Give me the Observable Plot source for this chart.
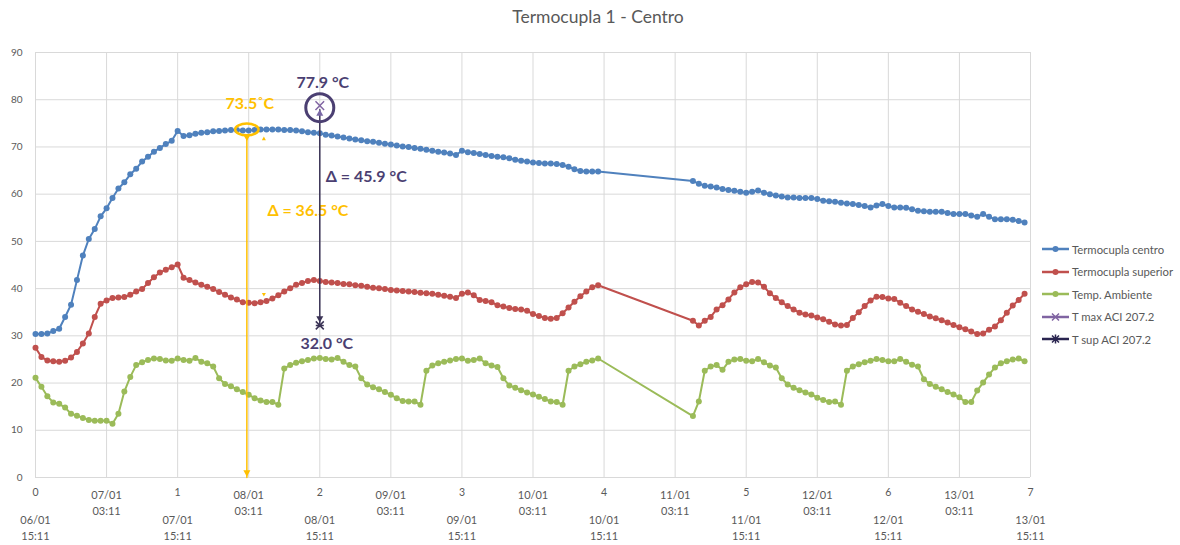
<!DOCTYPE html>
<html>
<head>
<meta charset="utf-8">
<script src="https://cdn.jsdelivr.net/npm/d3@7"></script>
<script src="https://cdn.jsdelivr.net/npm/@observablehq/plot@0.6"></script>
<style>
  body { margin: 0; background: #fff; font-family: Lato, "Open Sans", sans-serif; }
  #wrap { position: relative; width: 1180px; height: 545px; overflow: hidden; }
  #title { position: absolute; top: 6px; left: 598px; transform: translateX(-50%); font-size: 17.5px; color: #595959; white-space: nowrap; }
  #chart { position: absolute; top: 38px; left: 0; }
  #legend { position: absolute; left: 1042px; top: 238px; font-size: 11.3px; color: #595959; }
  #legend .row { height: 22.5px; display: flex; align-items: center; white-space: nowrap; }
  #legend svg { margin-right: 2px; }
</style>
</head>
<body>
<div id="wrap">
  <div id="title">Termocupla 1 - Centro</div>
  <div id="chart"></div>
  <div id="legend"></div>
</div>
<script>
// Hourly readings (hours after 06/01 15:11); logging stopped between hour 95 and hour 111.
const sampleHours = [...d3.range(0, 96), ...d3.range(111, 168)];

const seriesNames = ["Termocupla centro", "Termocupla superior", "Temp. Ambiente"];
const seriesColors = ["#4F81BD", "#C0504D", "#9BBB59"];

const tempCentro = [
  30.4,30.4,30.5,31.0,31.5,34.0,36.6,41.8,47.0,50.5,
  52.6,55.3,57.0,59.2,61.2,62.5,64.2,65.4,66.9,67.9,
  69.0,69.8,70.6,71.3,73.4,72.3,72.5,72.8,73.0,73.1,
  73.3,73.4,73.5,73.6,73.6,73.5,73.5,73.6,73.7,73.7,
  73.7,73.7,73.6,73.6,73.5,73.3,73.1,73.0,72.9,72.6,
  72.4,72.2,72.0,71.8,71.6,71.4,71.2,71.1,70.9,70.7,
  70.5,70.3,70.1,70.0,69.8,69.6,69.4,69.2,69.0,68.8,
  68.6,68.3,69.2,68.9,68.7,68.5,68.3,68.1,67.9,67.8,
  67.6,67.3,67.1,66.9,66.7,66.6,66.5,66.5,66.4,66.2,
  65.8,65.3,64.9,64.8,64.8,64.8,
  62.8,62.2,61.8,61.6,61.4,61.1,60.9,60.7,60.5,60.3,
  60.5,60.8,60.3,60.0,59.7,59.5,59.3,59.3,59.2,59.2,
  59.2,59.0,58.6,58.5,58.4,58.2,58.0,57.9,57.7,57.5,
  57.2,57.6,57.9,57.5,57.2,57.2,57.1,56.8,56.5,56.4,
  56.3,56.3,56.3,56.0,55.8,55.8,55.8,55.5,55.2,55.8,
  55.2,54.7,54.7,54.7,54.6,54.3,54.0
];

const tempSuperior = [
  27.5,25.5,24.8,24.6,24.5,24.7,25.4,26.6,28.4,30.5,
  34.0,36.8,37.5,38.0,38.1,38.2,38.7,39.4,39.9,41.2,
  42.4,43.4,44.0,44.5,45.1,42.3,41.8,41.3,40.8,40.4,
  39.9,39.3,38.7,38.1,37.7,37.1,37.0,36.9,37.1,37.4,
  37.9,38.6,39.4,40.1,40.8,41.2,41.6,41.8,41.6,41.4,
  41.3,41.2,41.0,40.9,40.7,40.6,40.4,40.2,40.1,39.9,
  39.7,39.6,39.5,39.4,39.3,39.1,39.0,38.9,38.7,38.5,
  38.3,38.0,38.9,39.2,38.6,37.6,37.4,37.1,36.5,36.2,
  35.9,35.7,35.6,35.3,34.6,34.2,33.8,33.6,33.8,34.8,
  36.0,37.2,38.4,39.4,40.3,40.7,
  33.2,32.2,33.2,34.0,35.6,36.5,37.7,39.2,40.3,40.9,
  41.4,41.3,40.4,39.0,38.0,37.1,36.3,35.6,34.9,34.5,
  34.3,33.9,33.5,33.0,32.4,32.2,32.3,33.8,35.0,36.3,
  37.5,38.3,38.2,37.9,37.8,37.0,36.3,35.6,35.1,34.6,
  34.1,33.7,33.3,32.8,32.3,31.8,31.4,30.9,30.4,30.5,
  31.3,32.0,33.3,34.9,36.4,37.6,38.9
];

const tempAmbiente = [
  21.1,19.2,17.2,15.9,15.6,14.8,13.5,13.1,12.6,12.2,
  12.0,12.0,12.0,11.4,13.5,18.2,21.3,23.8,24.4,24.9,
  25.2,25.1,24.8,24.7,25.2,24.9,24.7,25.3,24.5,24.2,
  23.5,21.0,19.8,19.3,18.7,18.1,17.5,16.8,16.3,16.0,
  16.0,15.4,23.1,23.8,24.3,24.6,24.9,25.2,25.3,25.1,
  25.0,25.3,24.5,23.8,23.5,21.0,19.7,19.1,18.7,18.1,
  17.5,16.8,16.2,16.1,16.1,15.4,22.6,23.7,24.2,24.5,
  24.8,25.1,25.2,24.7,24.9,25.2,24.2,23.7,23.4,21.0,
  19.5,19.0,18.5,18.0,17.6,17.1,16.6,16.1,16.0,15.4,
  22.6,23.5,24.0,24.5,24.8,25.2,
  13.0,16.1,22.6,23.5,23.8,22.8,24.5,25.0,25.1,24.7,
  24.6,25.1,24.4,23.7,23.3,21.0,19.7,19.0,18.5,18.0,
  17.6,16.9,16.4,16.0,16.1,15.4,22.6,23.5,24.0,24.4,
  24.7,25.1,24.9,24.6,24.6,25.1,24.5,23.9,23.5,20.8,
  19.8,19.2,18.7,18.1,17.6,17.0,16.0,16.0,18.4,20.1,
  21.8,23.3,24.2,24.6,25.0,25.2,24.6
];

// Axis ticks and labels
const yTicks = [0, 10, 20, 30, 40, 50, 60, 70, 80, 90];
const gridDays = [0, 0.5, 1, 1.5, 2, 2.5, 3, 3.5, 4, 4.5, 5, 5.5, 6, 6.5, 7];
const dayTicks = [0, 1, 2, 3, 4, 5, 6, 7];
const dayLabels = ["06/01\n15:11", "07/01\n15:11", "08/01\n15:11", "09/01\n15:11",
                   "10/01\n15:11", "11/01\n15:11", "12/01\n15:11", "13/01\n15:11"];
const halfDayTicks = [0.5, 1.5, 2.5, 3.5, 4.5, 5.5, 6.5];
const halfDayLabels = ["07/01\n03:11", "08/01\n03:11", "09/01\n03:11", "10/01\n03:11",
                       "11/01\n03:11", "12/01\n03:11", "13/01\n03:11"];

// Annotated readings
const peakNote = [{day: 1.487, top: 73.5, low: 37.0}];
const aciNote = [{day: 2, max: 77.9, sup: 32.0}];

const seriesValues = [tempCentro, tempSuperior, tempAmbiente];
const rows = seriesNames.flatMap((name, s) =>
  sampleHours.map((h, i) => ({series: name, day: h / 24, temp: seriesValues[s][i]})));

// Custom marker shapes
const ellipseSymbol = {draw(ctx, size) {
  const r = Math.sqrt(size / Math.PI), rx = r, ry = r * 0.5, k = 0.5523;
  ctx.moveTo(rx, 0);
  ctx.bezierCurveTo(rx, ry * k, rx * k, ry, 0, ry);
  ctx.bezierCurveTo(-rx * k, ry, -rx, ry * k, -rx, 0);
  ctx.bezierCurveTo(-rx, -ry * k, -rx * k, -ry, 0, -ry);
  ctx.bezierCurveTo(rx * k, -ry, rx, -ry * k, rx, 0);
  ctx.closePath();
}};
const triDown = {draw(ctx, size) {
  const r = Math.sqrt(size / Math.PI);
  ctx.moveTo(-r, -r * 0.9); ctx.lineTo(r, -r * 0.9); ctx.lineTo(0, r * 0.9); ctx.closePath();
}};
const triUp = {draw(ctx, size) {
  const r = Math.sqrt(size / Math.PI);
  ctx.moveTo(-r, r * 0.9); ctx.lineTo(r, r * 0.9); ctx.lineTo(0, -r * 0.9); ctx.closePath();
}};
const starSym = {draw(ctx, size) {
  const r = Math.sqrt(size / Math.PI);
  ctx.moveTo(-r, -r); ctx.lineTo(r, r);
  ctx.moveTo(r, -r); ctx.lineTo(-r, r);
  ctx.moveTo(-r, 0); ctx.lineTo(r, 0);
}};

const gold = "#FFC000";
const purple = "#4B3F72";
const purpleLine = "#3B3356";
const labelGrey = "#595959";

const chart = Plot.plot({
  width: 1180,
  height: 507,
  marginLeft: 35,
  marginRight: 150,
  marginTop: 14,
  marginBottom: 68,
  x: {domain: [0, 7], axis: null},
  y: {domain: [0, 90], axis: null},
  color: {domain: seriesNames, range: seriesColors},
  style: {fontFamily: "Lato, 'Open Sans', sans-serif", fontSize: "10px", color: labelGrey, background: "white", overflow: "visible"},
  marks: [
    Plot.gridY(yTicks, {stroke: "#d9d9d9", strokeOpacity: 1}),
    Plot.gridX(gridDays, {stroke: "#d9d9d9", strokeOpacity: 1}),
    Plot.axisY(yTicks, {tickSize: 0, tickPadding: 13, fill: labelGrey, fontSize: 10}),

    // x labels: day number, half-day timestamp, day timestamp
    Plot.text(dayTicks, {x: d => d, text: d => String(d), frameAnchor: "bottom", lineAnchor: "middle",
      dy: 15, fill: labelGrey, fontSize: 10.5}),
    Plot.text(halfDayTicks, {x: d => d, text: (d, i) => halfDayLabels[i], frameAnchor: "bottom", lineAnchor: "middle",
      dy: 24, lineHeight: 1.45, fill: labelGrey, fontSize: 11}),
    Plot.text(dayTicks, {x: d => d, text: (d, i) => dayLabels[i], frameAnchor: "bottom", lineAnchor: "middle",
      dy: 49, lineHeight: 1.45, fill: labelGrey, fontSize: 11}),

    // series
    Plot.line(rows, {x: "day", y: "temp", z: "series", stroke: "series", strokeWidth: 2}),
    Plot.dot(rows, {x: "day", y: "temp", fill: "series", r: 3}),

    // peak of the centre thermocouple
    Plot.text(peakNote, {x: "day", y: d => (d.top + d.low) / 2, text: d => `Δ = ${(d.top - d.low).toFixed(1)} °C`,
      dx: 61, dy: -6, fill: gold, fontWeight: "bold", fontSize: 16}),
    Plot.arrow(peakNote, {x1: "day", y1: "top", x2: "day", y2: () => 0, stroke: gold, strokeWidth: 1.5,
      headLength: 0, insetStart: 6}),
    Plot.dot(peakNote, {x: "day", y: "top", symbol: ellipseSymbol, r: 11.7, stroke: gold, strokeWidth: 2.5, fill: "none", dy: -1}),
    Plot.dot(peakNote, {x: "day", y: "top", symbol: triDown, r: 3, fill: gold, dy: 8}),
    Plot.dot(peakNote, {x: "day", y: () => 0, symbol: triDown, r: 3.5, fill: gold, dy: -4}),
    Plot.dot(peakNote, {x: "day", y: "top", symbol: triUp, r: 2, fill: gold, dx: 17, dy: 8}),
    Plot.dot(peakNote, {x: "day", y: "low", symbol: triDown, r: 2, fill: gold, dx: 17, dy: -8}),
    Plot.text(peakNote, {x: "day", y: "top", text: d => `${d.top.toFixed(1)}˚C`, dx: 3, dy: -27,
      fill: gold, fontWeight: "bold", fontSize: 16}),

    // ACI 207.2 maximum and surface temperatures
    Plot.arrow(aciNote, {x1: "day", y1: "sup", x2: "day", y2: "max", stroke: purpleLine, strokeWidth: 1.5, headLength: 0}),
    Plot.dot(aciNote, {x: "day", y: "max", r: 14, stroke: purple, strokeWidth: 3, fill: "none", dy: -2}),
    Plot.dot(aciNote, {x: "day", y: "max", symbol: "times", r: 4, stroke: "#8064A2", strokeWidth: 1.5, dy: -4}),
    Plot.dot(aciNote, {x: "day", y: "max", symbol: triUp, r: 3.5, fill: "#7A68A6", dy: 3}),
    Plot.dot(aciNote, {x: "day", y: "sup", symbol: triDown, r: 3.5, fill: purpleLine, dy: -7}),
    Plot.dot(aciNote, {x: "day", y: "sup", symbol: starSym, r: 4, stroke: purpleLine, strokeWidth: 1.5, dy: -1}),
    Plot.text(aciNote, {x: "day", y: "max", text: d => `${d.max.toFixed(1)} °C`, dx: 3, dy: -27,
      fill: purple, fontWeight: "bold", fontSize: 16}),
    Plot.text(aciNote, {x: "day", y: "sup", text: d => `${d.sup.toFixed(1)} °C`, dx: 7, dy: 17,
      fill: purple, fontWeight: "bold", fontSize: 16}),
    Plot.text(aciNote, {x: "day", y: d => (d.max + d.sup) / 2, text: d => `Δ = ${(d.max - d.sup).toFixed(1)} °C`,
      dx: 6, dy: -41, textAnchor: "start", fill: purple, fontWeight: "bold", fontSize: 16})
  ]
});
document.getElementById("chart").appendChild(chart);

// Legend
const legendItems = [
  {name: "Termocupla centro", color: "#4F81BD", marker: "dot"},
  {name: "Termocupla superior", color: "#C0504D", marker: "dot"},
  {name: "Temp. Ambiente", color: "#9BBB59", marker: "dot"},
  {name: "T max ACI 207.2", color: "#8064A2", marker: "times"},
  {name: "T sup ACI 207.2", color: "#2A2550", marker: "star"}
];
const legend = d3.select("#legend");
for (const item of legendItems) {
  const row = legend.append("div").attr("class", "row");
  const s = row.append("svg").attr("width", 28).attr("height", 12);
  s.append("line").attr("x1", 0).attr("x2", 27).attr("y1", 6).attr("y2", 6)
    .attr("stroke", item.color).attr("stroke-width", 2.5);
  if (item.marker === "dot") {
    s.append("circle").attr("cx", 13.5).attr("cy", 6).attr("r", 3).attr("fill", item.color);
  } else {
    const p = d3.path();
    p.moveTo(10, 2.5); p.lineTo(17, 9.5); p.moveTo(17, 2.5); p.lineTo(10, 9.5);
    if (item.marker === "star") { p.moveTo(13.5, 1.5); p.lineTo(13.5, 10.5); }
    s.append("path").attr("d", p.toString()).attr("stroke", item.color).attr("stroke-width", 1.5).attr("fill", "none");
  }
  row.append("span").text(item.name);
}
</script>
</body>
</html>
